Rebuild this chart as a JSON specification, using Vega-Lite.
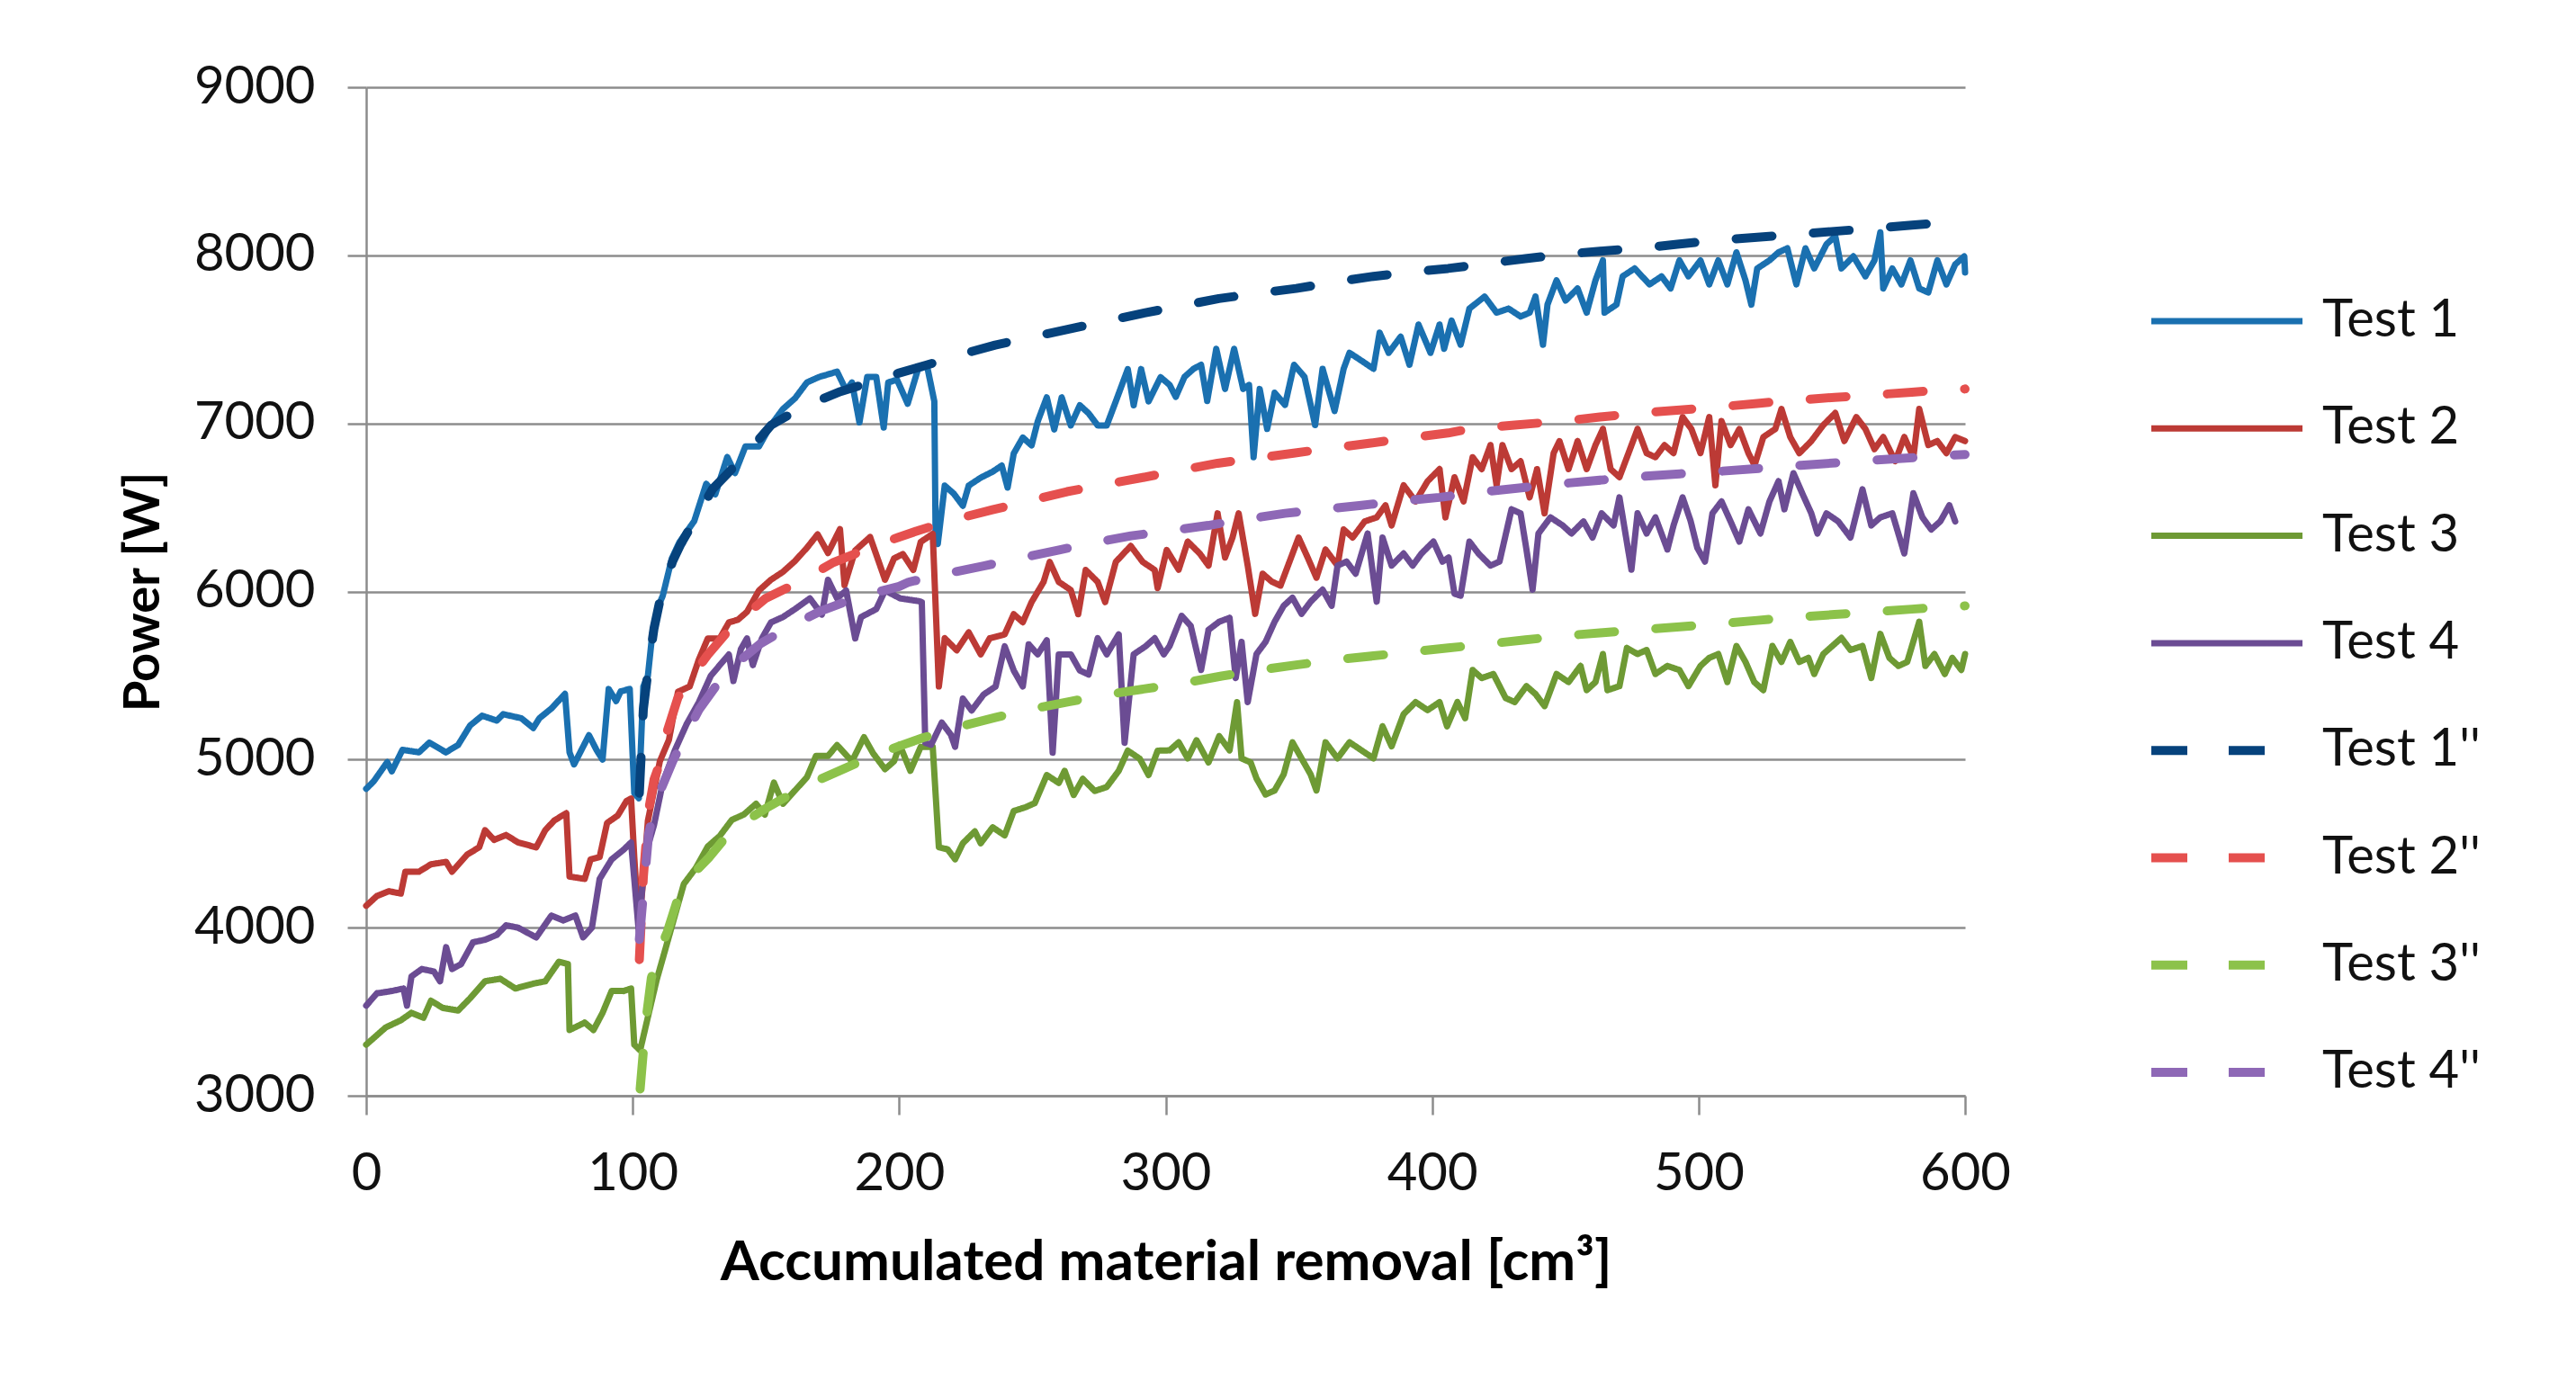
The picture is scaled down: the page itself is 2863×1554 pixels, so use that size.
{
"$schema": "https://vega.github.io/schema/vega-lite/v6.json",
"width": 1777,
"height": 1121,
"autosize": {"type": "none"},
"padding": {"left": 407, "top": 97, "right": 679, "bottom": 336},
"background": "white",
"config": {"view": {"stroke": null}, "font": "Lato"},
"data": {"values": [
{"s":"Test 1","x":0,"y":4826},{"s":"Test 1","x":2.8,"y":4870},{"s":"Test 1","x":7.9,"y":4985},{"s":"Test 1","x":9.6,"y":4930},{"s":"Test 1","x":13.6,"y":5058},{"s":"Test 1","x":19.8,"y":5043},{"s":"Test 1","x":23.7,"y":5101},{"s":"Test 1","x":29.9,"y":5043},{"s":"Test 1","x":34.5,"y":5087},{"s":"Test 1","x":39,"y":5203},{"s":"Test 1","x":43.5,"y":5261},{"s":"Test 1","x":49,"y":5232},{"s":"Test 1","x":51.4,"y":5270},{"s":"Test 1","x":58.2,"y":5246},{"s":"Test 1","x":62.7,"y":5188},{"s":"Test 1","x":65,"y":5246},{"s":"Test 1","x":69.5,"y":5304},{"s":"Test 1","x":74.6,"y":5391},{"s":"Test 1","x":76.3,"y":5043},{"s":"Test 1","x":78,"y":4971},{"s":"Test 1","x":80.8,"y":5058},{"s":"Test 1","x":83.6,"y":5145},{"s":"Test 1","x":86.4,"y":5058},{"s":"Test 1","x":88.7,"y":5000},{"s":"Test 1","x":91,"y":5420},{"s":"Test 1","x":93.8,"y":5348},{"s":"Test 1","x":95.5,"y":5406},{"s":"Test 1","x":98.9,"y":5420},{"s":"Test 1","x":100.6,"y":4800},{"s":"Test 1","x":102.3,"y":4770},{"s":"Test 1","x":104,"y":5435},{"s":"Test 1","x":105.7,"y":5498},{"s":"Test 1","x":107.4,"y":5752},{"s":"Test 1","x":109.6,"y":5911},{"s":"Test 1","x":111.3,"y":5975},{"s":"Test 1","x":114.7,"y":6197},{"s":"Test 1","x":117.5,"y":6292},{"s":"Test 1","x":120.3,"y":6356},{"s":"Test 1","x":123.1,"y":6419},{"s":"Test 1","x":127.6,"y":6641},{"s":"Test 1","x":131,"y":6578},{"s":"Test 1","x":135.5,"y":6800},{"s":"Test 1","x":138.4,"y":6705},{"s":"Test 1","x":142.3,"y":6863},{"s":"Test 1","x":147.4,"y":6863},{"s":"Test 1","x":151.9,"y":6990},{"s":"Test 1","x":156.4,"y":7086},{"s":"Test 1","x":160.9,"y":7149},{"s":"Test 1","x":165.4,"y":7244},{"s":"Test 1","x":169.9,"y":7276},{"s":"Test 1","x":173.3,"y":7292},{"s":"Test 1","x":176.7,"y":7308},{"s":"Test 1","x":180.1,"y":7197},{"s":"Test 1","x":182.3,"y":7244},{"s":"Test 1","x":185.1,"y":7006},{"s":"Test 1","x":188,"y":7276},{"s":"Test 1","x":191.4,"y":7276},{"s":"Test 1","x":194.2,"y":6975},{"s":"Test 1","x":195.9,"y":7244},{"s":"Test 1","x":199.2,"y":7260},{"s":"Test 1","x":203.2,"y":7117},{"s":"Test 1","x":207.1,"y":7324},{"s":"Test 1","x":210.5,"y":7340},{"s":"Test 1","x":213.2,"y":7131},{"s":"Test 1","x":213.7,"y":6295},{"s":"Test 1","x":214.5,"y":6283},{"s":"Test 1","x":217.1,"y":6630},{"s":"Test 1","x":220.5,"y":6582},{"s":"Test 1","x":223.9,"y":6510},{"s":"Test 1","x":226.1,"y":6630},{"s":"Test 1","x":230.6,"y":6677},{"s":"Test 1","x":235.1,"y":6713},{"s":"Test 1","x":238.5,"y":6749},{"s":"Test 1","x":240.7,"y":6618},{"s":"Test 1","x":243,"y":6821},{"s":"Test 1","x":246.4,"y":6916},{"s":"Test 1","x":249.7,"y":6869},{"s":"Test 1","x":252,"y":7012},{"s":"Test 1","x":255.4,"y":7155},{"s":"Test 1","x":258.2,"y":6964},{"s":"Test 1","x":261,"y":7155},{"s":"Test 1","x":264.4,"y":6988},{"s":"Test 1","x":267.8,"y":7108},{"s":"Test 1","x":271.1,"y":7060},{"s":"Test 1","x":274.5,"y":6988},{"s":"Test 1","x":277.9,"y":6988},{"s":"Test 1","x":281.3,"y":7131},{"s":"Test 1","x":285.8,"y":7323},{"s":"Test 1","x":288,"y":7108},{"s":"Test 1","x":290.8,"y":7323},{"s":"Test 1","x":293.6,"y":7131},{"s":"Test 1","x":298.1,"y":7275},{"s":"Test 1","x":301.5,"y":7229},{"s":"Test 1","x":303.8,"y":7158},{"s":"Test 1","x":307.1,"y":7277},{"s":"Test 1","x":310.5,"y":7325},{"s":"Test 1","x":313.3,"y":7349},{"s":"Test 1","x":315.6,"y":7134},{"s":"Test 1","x":319,"y":7444},{"s":"Test 1","x":322.3,"y":7205},{"s":"Test 1","x":325.7,"y":7444},{"s":"Test 1","x":329.1,"y":7205},{"s":"Test 1","x":331.3,"y":7229},{"s":"Test 1","x":333,"y":6799},{"s":"Test 1","x":335.3,"y":7205},{"s":"Test 1","x":338.1,"y":6967},{"s":"Test 1","x":340.9,"y":7182},{"s":"Test 1","x":344.8,"y":7110},{"s":"Test 1","x":348.2,"y":7349},{"s":"Test 1","x":352.1,"y":7277},{"s":"Test 1","x":356.1,"y":6990},{"s":"Test 1","x":358.9,"y":7325},{"s":"Test 1","x":363.4,"y":7074},{"s":"Test 1","x":366.8,"y":7325},{"s":"Test 1","x":369,"y":7420},{"s":"Test 1","x":373.5,"y":7373},{"s":"Test 1","x":378,"y":7325},{"s":"Test 1","x":380.3,"y":7540},{"s":"Test 1","x":383.7,"y":7420},{"s":"Test 1","x":388.2,"y":7516},{"s":"Test 1","x":391.5,"y":7349},{"s":"Test 1","x":394.9,"y":7588},{"s":"Test 1","x":399.4,"y":7420},{"s":"Test 1","x":402.8,"y":7588},{"s":"Test 1","x":404.5,"y":7444},{"s":"Test 1","x":407.3,"y":7612},{"s":"Test 1","x":410.7,"y":7468},{"s":"Test 1","x":414,"y":7683},{"s":"Test 1","x":419.7,"y":7755},{"s":"Test 1","x":424.2,"y":7659},{"s":"Test 1","x":428.7,"y":7683},{"s":"Test 1","x":433.2,"y":7636},{"s":"Test 1","x":436.6,"y":7659},{"s":"Test 1","x":438.8,"y":7755},{"s":"Test 1","x":441.6,"y":7468},{"s":"Test 1","x":443.3,"y":7707},{"s":"Test 1","x":446.7,"y":7851},{"s":"Test 1","x":450.1,"y":7731},{"s":"Test 1","x":454.6,"y":7803},{"s":"Test 1","x":458,"y":7659},{"s":"Test 1","x":461.3,"y":7851},{"s":"Test 1","x":464.1,"y":7970},{"s":"Test 1","x":464.7,"y":7659},{"s":"Test 1","x":469.2,"y":7707},{"s":"Test 1","x":471.5,"y":7875},{"s":"Test 1","x":476,"y":7922},{"s":"Test 1","x":481.6,"y":7827},{"s":"Test 1","x":486.1,"y":7875},{"s":"Test 1","x":489.5,"y":7803},{"s":"Test 1","x":492.8,"y":7970},{"s":"Test 1","x":496.2,"y":7875},{"s":"Test 1","x":500.7,"y":7970},{"s":"Test 1","x":504,"y":7827},{"s":"Test 1","x":507.4,"y":7970},{"s":"Test 1","x":510.8,"y":7827},{"s":"Test 1","x":514.2,"y":8018},{"s":"Test 1","x":517.6,"y":7851},{"s":"Test 1","x":519.8,"y":7707},{"s":"Test 1","x":522,"y":7922},{"s":"Test 1","x":526.6,"y":7970},{"s":"Test 1","x":530,"y":8018},{"s":"Test 1","x":533.3,"y":8042},{"s":"Test 1","x":536.7,"y":7827},{"s":"Test 1","x":540.1,"y":8042},{"s":"Test 1","x":543.4,"y":7922},{"s":"Test 1","x":548,"y":8066},{"s":"Test 1","x":551.3,"y":8114},{"s":"Test 1","x":553.6,"y":7922},{"s":"Test 1","x":558.1,"y":7994},{"s":"Test 1","x":562.6,"y":7875},{"s":"Test 1","x":566,"y":7970},{"s":"Test 1","x":568.2,"y":8137},{"s":"Test 1","x":569.3,"y":7803},{"s":"Test 1","x":572.7,"y":7922},{"s":"Test 1","x":576.1,"y":7827},{"s":"Test 1","x":579.5,"y":7970},{"s":"Test 1","x":582.8,"y":7803},{"s":"Test 1","x":586.2,"y":7779},{"s":"Test 1","x":589.6,"y":7970},{"s":"Test 1","x":593,"y":7827},{"s":"Test 1","x":596.3,"y":7946},{"s":"Test 1","x":599.7,"y":7994},{"s":"Test 1","x":600,"y":7898},
{"s":"Test 2","x":0,"y":4130},{"s":"Test 2","x":4,"y":4188},{"s":"Test 2","x":8.5,"y":4217},{"s":"Test 2","x":13,"y":4203},{"s":"Test 2","x":14.7,"y":4333},{"s":"Test 2","x":19.8,"y":4333},{"s":"Test 2","x":24.3,"y":4377},{"s":"Test 2","x":30,"y":4391},{"s":"Test 2","x":32.2,"y":4333},{"s":"Test 2","x":37.9,"y":4435},{"s":"Test 2","x":42.4,"y":4478},{"s":"Test 2","x":44.6,"y":4580},{"s":"Test 2","x":48,"y":4522},{"s":"Test 2","x":52.5,"y":4551},{"s":"Test 2","x":57,"y":4507},{"s":"Test 2","x":63.8,"y":4478},{"s":"Test 2","x":67.2,"y":4580},{"s":"Test 2","x":70.6,"y":4638},{"s":"Test 2","x":75.1,"y":4681},{"s":"Test 2","x":76.3,"y":4304},{"s":"Test 2","x":82,"y":4290},{"s":"Test 2","x":84.2,"y":4406},{"s":"Test 2","x":87.6,"y":4420},{"s":"Test 2","x":90.4,"y":4623},{"s":"Test 2","x":94.4,"y":4667},{"s":"Test 2","x":97.7,"y":4754},{"s":"Test 2","x":99.4,"y":4768},{"s":"Test 2","x":100.6,"y":4419},{"s":"Test 2","x":102.3,"y":4000},{"s":"Test 2","x":104.2,"y":4324},{"s":"Test 2","x":105.7,"y":4635},{"s":"Test 2","x":110.2,"y":4990},{"s":"Test 2","x":113.6,"y":5117},{"s":"Test 2","x":117,"y":5403},{"s":"Test 2","x":121.4,"y":5435},{"s":"Test 2","x":124.8,"y":5594},{"s":"Test 2","x":128.2,"y":5721},{"s":"Test 2","x":132.7,"y":5721},{"s":"Test 2","x":136.1,"y":5816},{"s":"Test 2","x":139.5,"y":5832},{"s":"Test 2","x":142.9,"y":5879},{"s":"Test 2","x":147.4,"y":6006},{"s":"Test 2","x":151.9,"y":6070},{"s":"Test 2","x":156.4,"y":6117},{"s":"Test 2","x":160.9,"y":6181},{"s":"Test 2","x":165.4,"y":6260},{"s":"Test 2","x":169.4,"y":6340},{"s":"Test 2","x":173.3,"y":6229},{"s":"Test 2","x":177.8,"y":6371},{"s":"Test 2","x":179.5,"y":6038},{"s":"Test 2","x":183.5,"y":6244},{"s":"Test 2","x":189.1,"y":6324},{"s":"Test 2","x":194.7,"y":6070},{"s":"Test 2","x":198.1,"y":6197},{"s":"Test 2","x":201.4,"y":6223},{"s":"Test 2","x":205.3,"y":6128},{"s":"Test 2","x":208.1,"y":6295},{"s":"Test 2","x":212.6,"y":6343},{"s":"Test 2","x":214.9,"y":5435},{"s":"Test 2","x":217.1,"y":5722},{"s":"Test 2","x":221.6,"y":5650},{"s":"Test 2","x":226.1,"y":5757},{"s":"Test 2","x":230.6,"y":5626},{"s":"Test 2","x":234,"y":5722},{"s":"Test 2","x":239.6,"y":5745},{"s":"Test 2","x":243,"y":5865},{"s":"Test 2","x":246.4,"y":5817},{"s":"Test 2","x":249.7,"y":5937},{"s":"Test 2","x":254.2,"y":6057},{"s":"Test 2","x":256.5,"y":6176},{"s":"Test 2","x":259.9,"y":6057},{"s":"Test 2","x":264.4,"y":6009},{"s":"Test 2","x":267.2,"y":5865},{"s":"Test 2","x":270,"y":6128},{"s":"Test 2","x":274.5,"y":6057},{"s":"Test 2","x":277.3,"y":5937},{"s":"Test 2","x":281.3,"y":6176},{"s":"Test 2","x":286.9,"y":6271},{"s":"Test 2","x":291.4,"y":6176},{"s":"Test 2","x":295.9,"y":6128},{"s":"Test 2","x":297,"y":6020},{"s":"Test 2","x":300.4,"y":6247},{"s":"Test 2","x":304.9,"y":6130},{"s":"Test 2","x":308.3,"y":6297},{"s":"Test 2","x":312.8,"y":6226},{"s":"Test 2","x":316.1,"y":6154},{"s":"Test 2","x":319.5,"y":6465},{"s":"Test 2","x":322.3,"y":6202},{"s":"Test 2","x":325.1,"y":6321},{"s":"Test 2","x":327.4,"y":6465},{"s":"Test 2","x":330.8,"y":6154},{"s":"Test 2","x":333.6,"y":5867},{"s":"Test 2","x":336.4,"y":6106},{"s":"Test 2","x":339.8,"y":6059},{"s":"Test 2","x":343.1,"y":6035},{"s":"Test 2","x":346.5,"y":6178},{"s":"Test 2","x":349.9,"y":6321},{"s":"Test 2","x":353.3,"y":6202},{"s":"Test 2","x":356.6,"y":6082},{"s":"Test 2","x":360,"y":6250},{"s":"Test 2","x":364.5,"y":6154},{"s":"Test 2","x":366.8,"y":6369},{"s":"Test 2","x":370.2,"y":6321},{"s":"Test 2","x":374.7,"y":6417},{"s":"Test 2","x":379.2,"y":6441},{"s":"Test 2","x":382.5,"y":6513},{"s":"Test 2","x":384.8,"y":6393},{"s":"Test 2","x":389.3,"y":6632},{"s":"Test 2","x":393.8,"y":6536},{"s":"Test 2","x":398.3,"y":6656},{"s":"Test 2","x":402.8,"y":6728},{"s":"Test 2","x":405,"y":6441},{"s":"Test 2","x":408.4,"y":6680},{"s":"Test 2","x":411.8,"y":6536},{"s":"Test 2","x":415.2,"y":6799},{"s":"Test 2","x":418.6,"y":6728},{"s":"Test 2","x":421.9,"y":6871},{"s":"Test 2","x":424.2,"y":6632},{"s":"Test 2","x":426.4,"y":6871},{"s":"Test 2","x":429.8,"y":6728},{"s":"Test 2","x":433.2,"y":6775},{"s":"Test 2","x":436.6,"y":6560},{"s":"Test 2","x":439.4,"y":6728},{"s":"Test 2","x":442.2,"y":6465},{"s":"Test 2","x":445.6,"y":6823},{"s":"Test 2","x":447.8,"y":6895},{"s":"Test 2","x":451.2,"y":6728},{"s":"Test 2","x":454.6,"y":6895},{"s":"Test 2","x":458,"y":6728},{"s":"Test 2","x":461.3,"y":6871},{"s":"Test 2","x":464.1,"y":6967},{"s":"Test 2","x":467,"y":6728},{"s":"Test 2","x":470.3,"y":6680},{"s":"Test 2","x":473.7,"y":6823},{"s":"Test 2","x":477.1,"y":6967},{"s":"Test 2","x":480.5,"y":6823},{"s":"Test 2","x":483.8,"y":6799},{"s":"Test 2","x":487.2,"y":6871},{"s":"Test 2","x":490.6,"y":6823},{"s":"Test 2","x":494,"y":7038},{"s":"Test 2","x":497.3,"y":6967},{"s":"Test 2","x":500.7,"y":6823},{"s":"Test 2","x":504,"y":7038},{"s":"Test 2","x":506.3,"y":6632},{"s":"Test 2","x":508.6,"y":7014},{"s":"Test 2","x":512,"y":6871},{"s":"Test 2","x":515.3,"y":6967},{"s":"Test 2","x":518.7,"y":6823},{"s":"Test 2","x":521,"y":6751},{"s":"Test 2","x":524.3,"y":6919},{"s":"Test 2","x":528.8,"y":6967},{"s":"Test 2","x":531.1,"y":7086},{"s":"Test 2","x":534.4,"y":6919},{"s":"Test 2","x":537.8,"y":6823},{"s":"Test 2","x":542.3,"y":6895},{"s":"Test 2","x":546.8,"y":6990},{"s":"Test 2","x":551.3,"y":7062},{"s":"Test 2","x":554.7,"y":6895},{"s":"Test 2","x":559.2,"y":7038},{"s":"Test 2","x":562.6,"y":6967},{"s":"Test 2","x":566,"y":6847},{"s":"Test 2","x":569.3,"y":6919},{"s":"Test 2","x":573.8,"y":6775},{"s":"Test 2","x":577.2,"y":6919},{"s":"Test 2","x":580.6,"y":6799},{"s":"Test 2","x":582.8,"y":7086},{"s":"Test 2","x":586.2,"y":6871},{"s":"Test 2","x":589.6,"y":6895},{"s":"Test 2","x":593,"y":6823},{"s":"Test 2","x":596.3,"y":6919},{"s":"Test 2","x":600,"y":6895},
{"s":"Test 3","x":0,"y":3304},{"s":"Test 3","x":7.3,"y":3406},{"s":"Test 3","x":13,"y":3449},{"s":"Test 3","x":17,"y":3493},{"s":"Test 3","x":21.5,"y":3464},{"s":"Test 3","x":24.3,"y":3565},{"s":"Test 3","x":28.8,"y":3522},{"s":"Test 3","x":34.5,"y":3507},{"s":"Test 3","x":39,"y":3580},{"s":"Test 3","x":44.6,"y":3681},{"s":"Test 3","x":50.3,"y":3696},{"s":"Test 3","x":56,"y":3638},{"s":"Test 3","x":62.7,"y":3667},{"s":"Test 3","x":67.2,"y":3681},{"s":"Test 3","x":72.3,"y":3797},{"s":"Test 3","x":75.7,"y":3783},{"s":"Test 3","x":76.3,"y":3391},{"s":"Test 3","x":82,"y":3435},{"s":"Test 3","x":85.3,"y":3391},{"s":"Test 3","x":88.7,"y":3493},{"s":"Test 3","x":92.1,"y":3623},{"s":"Test 3","x":96.6,"y":3623},{"s":"Test 3","x":99.4,"y":3638},{"s":"Test 3","x":100.6,"y":3304},{"s":"Test 3","x":102.8,"y":3270},{"s":"Test 3","x":105.7,"y":3467},{"s":"Test 3","x":109,"y":3689},{"s":"Test 3","x":112.4,"y":3879},{"s":"Test 3","x":115.8,"y":4070},{"s":"Test 3","x":119.2,"y":4260},{"s":"Test 3","x":123.7,"y":4355},{"s":"Test 3","x":128.2,"y":4483},{"s":"Test 3","x":132.7,"y":4546},{"s":"Test 3","x":137.2,"y":4641},{"s":"Test 3","x":141.7,"y":4673},{"s":"Test 3","x":146.3,"y":4737},{"s":"Test 3","x":149.6,"y":4673},{"s":"Test 3","x":153,"y":4863},{"s":"Test 3","x":156.4,"y":4737},{"s":"Test 3","x":160.9,"y":4816},{"s":"Test 3","x":165.4,"y":4895},{"s":"Test 3","x":168.8,"y":5022},{"s":"Test 3","x":173.3,"y":5022},{"s":"Test 3","x":176.7,"y":5086},{"s":"Test 3","x":182.3,"y":4990},{"s":"Test 3","x":186.8,"y":5133},{"s":"Test 3","x":190.2,"y":5038},{"s":"Test 3","x":194.7,"y":4943},{"s":"Test 3","x":198.1,"y":4990},{"s":"Test 3","x":200.2,"y":5088},{"s":"Test 3","x":204.2,"y":4933},{"s":"Test 3","x":208.1,"y":5076},{"s":"Test 3","x":212.6,"y":5076},{"s":"Test 3","x":214.9,"y":4478},{"s":"Test 3","x":218.2,"y":4466},{"s":"Test 3","x":221,"y":4407},{"s":"Test 3","x":223.9,"y":4502},{"s":"Test 3","x":228.4,"y":4573},{"s":"Test 3","x":230.6,"y":4502},{"s":"Test 3","x":235.1,"y":4597},{"s":"Test 3","x":239.6,"y":4549},{"s":"Test 3","x":243,"y":4694},{"s":"Test 3","x":247.5,"y":4717},{"s":"Test 3","x":250.9,"y":4741},{"s":"Test 3","x":255.4,"y":4908},{"s":"Test 3","x":259.9,"y":4861},{"s":"Test 3","x":262.1,"y":4933},{"s":"Test 3","x":265.5,"y":4789},{"s":"Test 3","x":268.9,"y":4885},{"s":"Test 3","x":273.4,"y":4813},{"s":"Test 3","x":277.9,"y":4837},{"s":"Test 3","x":282.4,"y":4933},{"s":"Test 3","x":285.8,"y":5053},{"s":"Test 3","x":290.3,"y":5005},{"s":"Test 3","x":293.6,"y":4908},{"s":"Test 3","x":297,"y":5053},{"s":"Test 3","x":301.5,"y":5055},{"s":"Test 3","x":304.9,"y":5103},{"s":"Test 3","x":308.3,"y":5007},{"s":"Test 3","x":311.6,"y":5115},{"s":"Test 3","x":316.1,"y":4983},{"s":"Test 3","x":320.1,"y":5139},{"s":"Test 3","x":324,"y":5055},{"s":"Test 3","x":326.8,"y":5342},{"s":"Test 3","x":328.5,"y":5007},{"s":"Test 3","x":331.9,"y":4983},{"s":"Test 3","x":334.1,"y":4888},{"s":"Test 3","x":337.5,"y":4792},{"s":"Test 3","x":340.9,"y":4816},{"s":"Test 3","x":344.3,"y":4912},{"s":"Test 3","x":347.6,"y":5103},{"s":"Test 3","x":351,"y":5007},{"s":"Test 3","x":354.4,"y":4912},{"s":"Test 3","x":356.6,"y":4816},{"s":"Test 3","x":360,"y":5103},{"s":"Test 3","x":364.5,"y":5007},{"s":"Test 3","x":369,"y":5103},{"s":"Test 3","x":373.5,"y":5055},{"s":"Test 3","x":378,"y":5007},{"s":"Test 3","x":381.4,"y":5198},{"s":"Test 3","x":384.8,"y":5079},{"s":"Test 3","x":389.3,"y":5270},{"s":"Test 3","x":393.8,"y":5342},{"s":"Test 3","x":398.3,"y":5294},{"s":"Test 3","x":402.8,"y":5342},{"s":"Test 3","x":405.6,"y":5198},{"s":"Test 3","x":409.5,"y":5342},{"s":"Test 3","x":412.4,"y":5246},{"s":"Test 3","x":415.2,"y":5533},{"s":"Test 3","x":418.6,"y":5485},{"s":"Test 3","x":423,"y":5509},{"s":"Test 3","x":427.6,"y":5366},{"s":"Test 3","x":431,"y":5342},{"s":"Test 3","x":435.4,"y":5437},{"s":"Test 3","x":438.8,"y":5390},{"s":"Test 3","x":442.2,"y":5318},{"s":"Test 3","x":446.7,"y":5509},{"s":"Test 3","x":451.2,"y":5461},{"s":"Test 3","x":455.7,"y":5557},{"s":"Test 3","x":458,"y":5413},{"s":"Test 3","x":461.3,"y":5461},{"s":"Test 3","x":464.1,"y":5628},{"s":"Test 3","x":465.8,"y":5413},{"s":"Test 3","x":470.3,"y":5437},{"s":"Test 3","x":473.1,"y":5664},{"s":"Test 3","x":477.1,"y":5628},{"s":"Test 3","x":480.5,"y":5652},{"s":"Test 3","x":483.8,"y":5509},{"s":"Test 3","x":488.3,"y":5557},{"s":"Test 3","x":492.8,"y":5533},{"s":"Test 3","x":496.2,"y":5437},{"s":"Test 3","x":500.7,"y":5557},{"s":"Test 3","x":504,"y":5605},{"s":"Test 3","x":507.4,"y":5628},{"s":"Test 3","x":510.8,"y":5461},{"s":"Test 3","x":514.2,"y":5676},{"s":"Test 3","x":517.6,"y":5581},{"s":"Test 3","x":520.9,"y":5461},{"s":"Test 3","x":524.3,"y":5413},{"s":"Test 3","x":527.7,"y":5676},{"s":"Test 3","x":531.1,"y":5581},{"s":"Test 3","x":534.4,"y":5700},{"s":"Test 3","x":537.8,"y":5581},{"s":"Test 3","x":541.2,"y":5605},{"s":"Test 3","x":543.4,"y":5509},{"s":"Test 3","x":546.8,"y":5628},{"s":"Test 3","x":550.2,"y":5676},{"s":"Test 3","x":553.6,"y":5724},{"s":"Test 3","x":557,"y":5652},{"s":"Test 3","x":561.5,"y":5676},{"s":"Test 3","x":564.8,"y":5485},{"s":"Test 3","x":568.2,"y":5748},{"s":"Test 3","x":571.6,"y":5605},{"s":"Test 3","x":575,"y":5557},{"s":"Test 3","x":578.3,"y":5581},{"s":"Test 3","x":582.8,"y":5820},{"s":"Test 3","x":585.1,"y":5557},{"s":"Test 3","x":588.5,"y":5628},{"s":"Test 3","x":592.4,"y":5509},{"s":"Test 3","x":595.2,"y":5605},{"s":"Test 3","x":598.6,"y":5533},{"s":"Test 3","x":600,"y":5628},
{"s":"Test 4","x":0,"y":3536},{"s":"Test 4","x":4,"y":3609},{"s":"Test 4","x":9.6,"y":3623},{"s":"Test 4","x":14,"y":3638},{"s":"Test 4","x":15.3,"y":3536},{"s":"Test 4","x":17,"y":3710},{"s":"Test 4","x":20.9,"y":3754},{"s":"Test 4","x":25.4,"y":3739},{"s":"Test 4","x":27.7,"y":3681},{"s":"Test 4","x":30,"y":3884},{"s":"Test 4","x":32.2,"y":3754},{"s":"Test 4","x":35.6,"y":3783},{"s":"Test 4","x":40.1,"y":3913},{"s":"Test 4","x":44.6,"y":3928},{"s":"Test 4","x":49,"y":3957},{"s":"Test 4","x":52.5,"y":4014},{"s":"Test 4","x":57,"y":4000},{"s":"Test 4","x":63.8,"y":3942},{"s":"Test 4","x":69.5,"y":4072},{"s":"Test 4","x":74,"y":4043},{"s":"Test 4","x":78.5,"y":4072},{"s":"Test 4","x":81.4,"y":3942},{"s":"Test 4","x":84.7,"y":4000},{"s":"Test 4","x":87.6,"y":4290},{"s":"Test 4","x":92.1,"y":4406},{"s":"Test 4","x":96.6,"y":4464},{"s":"Test 4","x":99.4,"y":4507},{"s":"Test 4","x":100.6,"y":4290},{"s":"Test 4","x":102.3,"y":3975},{"s":"Test 4","x":104.5,"y":4419},{"s":"Test 4","x":108,"y":4610},{"s":"Test 4","x":111.3,"y":4863},{"s":"Test 4","x":115.8,"y":5054},{"s":"Test 4","x":120.3,"y":5213},{"s":"Test 4","x":124.8,"y":5340},{"s":"Test 4","x":129.3,"y":5498},{"s":"Test 4","x":132.7,"y":5562},{"s":"Test 4","x":136.1,"y":5625},{"s":"Test 4","x":137.8,"y":5467},{"s":"Test 4","x":140.6,"y":5657},{"s":"Test 4","x":142.9,"y":5721},{"s":"Test 4","x":145.1,"y":5562},{"s":"Test 4","x":148.5,"y":5721},{"s":"Test 4","x":151.9,"y":5816},{"s":"Test 4","x":156.4,"y":5848},{"s":"Test 4","x":160.9,"y":5895},{"s":"Test 4","x":166.5,"y":5959},{"s":"Test 4","x":171,"y":5863},{"s":"Test 4","x":173.3,"y":6070},{"s":"Test 4","x":176.7,"y":5959},{"s":"Test 4","x":180.1,"y":6006},{"s":"Test 4","x":183.5,"y":5721},{"s":"Test 4","x":185.7,"y":5848},{"s":"Test 4","x":191.4,"y":5895},{"s":"Test 4","x":194.7,"y":6006},{"s":"Test 4","x":200.4,"y":5959},{"s":"Test 4","x":207.1,"y":5943},{"s":"Test 4","x":208.5,"y":5937},{"s":"Test 4","x":209.8,"y":5100},{"s":"Test 4","x":212,"y":5088},{"s":"Test 4","x":216,"y":5220},{"s":"Test 4","x":219.4,"y":5148},{"s":"Test 4","x":221,"y":5076},{"s":"Test 4","x":223.9,"y":5363},{"s":"Test 4","x":227.2,"y":5292},{"s":"Test 4","x":231.7,"y":5387},{"s":"Test 4","x":236.2,"y":5435},{"s":"Test 4","x":239.6,"y":5674},{"s":"Test 4","x":243,"y":5530},{"s":"Test 4","x":246.4,"y":5435},{"s":"Test 4","x":248.6,"y":5686},{"s":"Test 4","x":252,"y":5626},{"s":"Test 4","x":255.4,"y":5710},{"s":"Test 4","x":257.6,"y":5041},{"s":"Test 4","x":259.9,"y":5626},{"s":"Test 4","x":264.4,"y":5626},{"s":"Test 4","x":267.8,"y":5530},{"s":"Test 4","x":271.1,"y":5506},{"s":"Test 4","x":274.5,"y":5722},{"s":"Test 4","x":277.9,"y":5626},{"s":"Test 4","x":282.4,"y":5745},{"s":"Test 4","x":284.6,"y":5100},{"s":"Test 4","x":288,"y":5626},{"s":"Test 4","x":292.5,"y":5674},{"s":"Test 4","x":295.9,"y":5722},{"s":"Test 4","x":299.3,"y":5626},{"s":"Test 4","x":301.5,"y":5676},{"s":"Test 4","x":306,"y":5855},{"s":"Test 4","x":309.4,"y":5796},{"s":"Test 4","x":313.3,"y":5533},{"s":"Test 4","x":316.1,"y":5772},{"s":"Test 4","x":320.1,"y":5820},{"s":"Test 4","x":324,"y":5843},{"s":"Test 4","x":326.3,"y":5485},{"s":"Test 4","x":328.5,"y":5700},{"s":"Test 4","x":330.8,"y":5342},{"s":"Test 4","x":334.1,"y":5628},{"s":"Test 4","x":337.5,"y":5700},{"s":"Test 4","x":340.9,"y":5820},{"s":"Test 4","x":344.3,"y":5915},{"s":"Test 4","x":347.6,"y":5963},{"s":"Test 4","x":351,"y":5867},{"s":"Test 4","x":354.4,"y":5939},{"s":"Test 4","x":358.9,"y":6011},{"s":"Test 4","x":362.3,"y":5915},{"s":"Test 4","x":364.5,"y":6154},{"s":"Test 4","x":367.9,"y":6178},{"s":"Test 4","x":371.3,"y":6106},{"s":"Test 4","x":375.8,"y":6345},{"s":"Test 4","x":379.2,"y":5939},{"s":"Test 4","x":381.4,"y":6321},{"s":"Test 4","x":384.8,"y":6154},{"s":"Test 4","x":389.3,"y":6226},{"s":"Test 4","x":392.7,"y":6154},{"s":"Test 4","x":396,"y":6226},{"s":"Test 4","x":400.5,"y":6297},{"s":"Test 4","x":403.9,"y":6178},{"s":"Test 4","x":406.2,"y":6202},{"s":"Test 4","x":408.4,"y":5987},{"s":"Test 4","x":410.7,"y":5975},{"s":"Test 4","x":414,"y":6297},{"s":"Test 4","x":417.4,"y":6226},{"s":"Test 4","x":421.9,"y":6154},{"s":"Test 4","x":425.3,"y":6178},{"s":"Test 4","x":429.8,"y":6489},{"s":"Test 4","x":433.2,"y":6465},{"s":"Test 4","x":435.4,"y":6250},{"s":"Test 4","x":437.7,"y":6011},{"s":"Test 4","x":439.9,"y":6345},{"s":"Test 4","x":444.4,"y":6441},{"s":"Test 4","x":449,"y":6393},{"s":"Test 4","x":452.3,"y":6345},{"s":"Test 4","x":456.8,"y":6417},{"s":"Test 4","x":460.2,"y":6321},{"s":"Test 4","x":463.6,"y":6465},{"s":"Test 4","x":468.1,"y":6393},{"s":"Test 4","x":470.3,"y":6560},{"s":"Test 4","x":474.8,"y":6130},{"s":"Test 4","x":477.1,"y":6465},{"s":"Test 4","x":480.5,"y":6345},{"s":"Test 4","x":483.8,"y":6441},{"s":"Test 4","x":488.3,"y":6250},{"s":"Test 4","x":490.6,"y":6393},{"s":"Test 4","x":494,"y":6560},{"s":"Test 4","x":497,"y":6420},{"s":"Test 4","x":499.5,"y":6260},{"s":"Test 4","x":502.4,"y":6178},{"s":"Test 4","x":505.2,"y":6465},{"s":"Test 4","x":508.6,"y":6536},{"s":"Test 4","x":512,"y":6417},{"s":"Test 4","x":515.3,"y":6297},{"s":"Test 4","x":518.7,"y":6489},{"s":"Test 4","x":523.2,"y":6345},{"s":"Test 4","x":526.6,"y":6536},{"s":"Test 4","x":530,"y":6656},{"s":"Test 4","x":532.2,"y":6489},{"s":"Test 4","x":535.6,"y":6704},{"s":"Test 4","x":538.9,"y":6584},{"s":"Test 4","x":542.3,"y":6465},{"s":"Test 4","x":544.6,"y":6345},{"s":"Test 4","x":548,"y":6465},{"s":"Test 4","x":552.4,"y":6417},{"s":"Test 4","x":557,"y":6321},{"s":"Test 4","x":561.5,"y":6608},{"s":"Test 4","x":564.8,"y":6393},{"s":"Test 4","x":568.2,"y":6441},{"s":"Test 4","x":572.7,"y":6465},{"s":"Test 4","x":577.2,"y":6226},{"s":"Test 4","x":580.6,"y":6584},{"s":"Test 4","x":584,"y":6441},{"s":"Test 4","x":587.3,"y":6369},{"s":"Test 4","x":590.7,"y":6417},{"s":"Test 4","x":594.1,"y":6513},{"s":"Test 4","x":596.3,"y":6417},
{"s":"Test 1''","x":102.5,"y":4800},{"s":"Test 1''","x":104,"y":5300},{"s":"Test 1''","x":106,"y":5560},{"s":"Test 1''","x":108,"y":5780},{"s":"Test 1''","x":110,"y":5930},{"s":"Test 1''","x":112,"y":6040},{"s":"Test 1''","x":115,"y":6180},{"s":"Test 1''","x":118,"y":6280},{"s":"Test 1''","x":122,"y":6390},{"s":"Test 1''","x":130,"y":6610},{"s":"Test 1''","x":141,"y":6790},{"s":"Test 1''","x":152,"y":6990},{"s":"Test 1''","x":164,"y":7100},{"s":"Test 1''","x":178,"y":7190},{"s":"Test 1''","x":189,"y":7244},{"s":"Test 1''","x":200,"y":7300},{"s":"Test 1''","x":210,"y":7346},{"s":"Test 1''","x":222,"y":7405},{"s":"Test 1''","x":236,"y":7466},{"s":"Test 1''","x":250,"y":7515},{"s":"Test 1''","x":264,"y":7562},{"s":"Test 1''","x":278,"y":7610},{"s":"Test 1''","x":292,"y":7657},{"s":"Test 1''","x":306,"y":7700},{"s":"Test 1''","x":320,"y":7743},{"s":"Test 1''","x":335,"y":7775},{"s":"Test 1''","x":349,"y":7803},{"s":"Test 1''","x":363,"y":7840},{"s":"Test 1''","x":378,"y":7875},{"s":"Test 1''","x":392,"y":7900},{"s":"Test 1''","x":406,"y":7922},{"s":"Test 1''","x":420,"y":7950},{"s":"Test 1''","x":435,"y":7980},{"s":"Test 1''","x":449,"y":8006},{"s":"Test 1''","x":463,"y":8025},{"s":"Test 1''","x":478,"y":8042},{"s":"Test 1''","x":492,"y":8066},{"s":"Test 1''","x":507,"y":8090},{"s":"Test 1''","x":522,"y":8108},{"s":"Test 1''","x":537,"y":8125},{"s":"Test 1''","x":551,"y":8143},{"s":"Test 1''","x":566,"y":8161},{"s":"Test 1''","x":580,"y":8180},{"s":"Test 1''","x":594,"y":8197},{"s":"Test 1''","x":600,"y":8203},
{"s":"Test 2''","x":102.5,"y":3810},{"s":"Test 2''","x":104,"y":4300},{"s":"Test 2''","x":106,"y":4700},{"s":"Test 2''","x":108,"y":4880},{"s":"Test 2''","x":110,"y":4970},{"s":"Test 2''","x":113,"y":5170},{"s":"Test 2''","x":117,"y":5370},{"s":"Test 2''","x":122.6,"y":5500},{"s":"Test 2''","x":128,"y":5620},{"s":"Test 2''","x":135,"y":5750},{"s":"Test 2''","x":143,"y":5870},{"s":"Test 2''","x":150,"y":5960},{"s":"Test 2''","x":163,"y":6060},{"s":"Test 2''","x":175,"y":6170},{"s":"Test 2''","x":189,"y":6260},{"s":"Test 2''","x":200,"y":6324},{"s":"Test 2''","x":208,"y":6367},{"s":"Test 2''","x":221,"y":6430},{"s":"Test 2''","x":235,"y":6486},{"s":"Test 2''","x":249,"y":6540},{"s":"Test 2''","x":263,"y":6594},{"s":"Test 2''","x":277,"y":6636},{"s":"Test 2''","x":291,"y":6677},{"s":"Test 2''","x":305,"y":6720},{"s":"Test 2''","x":319.5,"y":6763},{"s":"Test 2''","x":334,"y":6793},{"s":"Test 2''","x":348,"y":6823},{"s":"Test 2''","x":362,"y":6853},{"s":"Test 2''","x":377,"y":6883},{"s":"Test 2''","x":391,"y":6913},{"s":"Test 2''","x":406,"y":6943},{"s":"Test 2''","x":414,"y":6967},{"s":"Test 2''","x":431,"y":6990},{"s":"Test 2''","x":449,"y":7014},{"s":"Test 2''","x":463,"y":7038},{"s":"Test 2''","x":478,"y":7062},{"s":"Test 2''","x":493,"y":7080},{"s":"Test 2''","x":507.5,"y":7098},{"s":"Test 2''","x":522,"y":7119},{"s":"Test 2''","x":537,"y":7139},{"s":"Test 2''","x":551,"y":7155},{"s":"Test 2''","x":566,"y":7170},{"s":"Test 2''","x":580,"y":7186},{"s":"Test 2''","x":594,"y":7201},{"s":"Test 2''","x":600,"y":7205},
{"s":"Test 3''","x":102.8,"y":3040},{"s":"Test 3''","x":105,"y":3450},{"s":"Test 3''","x":107,"y":3700},{"s":"Test 3''","x":110,"y":3860},{"s":"Test 3''","x":113,"y":3975},{"s":"Test 3''","x":117.5,"y":4200},{"s":"Test 3''","x":122,"y":4310},{"s":"Test 3''","x":128.8,"y":4420},{"s":"Test 3''","x":135,"y":4540},{"s":"Test 3''","x":142,"y":4630},{"s":"Test 3''","x":150,"y":4710},{"s":"Test 3''","x":160,"y":4800},{"s":"Test 3''","x":170,"y":4880},{"s":"Test 3''","x":180,"y":4950},{"s":"Test 3''","x":190,"y":5020},{"s":"Test 3''","x":200,"y":5080},{"s":"Test 3''","x":209,"y":5130},{"s":"Test 3''","x":222.7,"y":5196},{"s":"Test 3''","x":236,"y":5250},{"s":"Test 3''","x":250.3,"y":5303},{"s":"Test 3''","x":264,"y":5345},{"s":"Test 3''","x":278,"y":5387},{"s":"Test 3''","x":291,"y":5418},{"s":"Test 3''","x":303.8,"y":5447},{"s":"Test 3''","x":321,"y":5497},{"s":"Test 3''","x":335.3,"y":5533},{"s":"Test 3''","x":349,"y":5563},{"s":"Test 3''","x":363.4,"y":5593},{"s":"Test 3''","x":378,"y":5617},{"s":"Test 3''","x":392,"y":5640},{"s":"Test 3''","x":406,"y":5664},{"s":"Test 3''","x":420.8,"y":5688},{"s":"Test 3''","x":435,"y":5712},{"s":"Test 3''","x":449,"y":5736},{"s":"Test 3''","x":463,"y":5754},{"s":"Test 3''","x":478,"y":5772},{"s":"Test 3''","x":493,"y":5790},{"s":"Test 3''","x":507.4,"y":5808},{"s":"Test 3''","x":522,"y":5828},{"s":"Test 3''","x":536.7,"y":5848},{"s":"Test 3''","x":551,"y":5863},{"s":"Test 3''","x":566,"y":5879},{"s":"Test 3''","x":580,"y":5895},{"s":"Test 3''","x":594,"y":5910},{"s":"Test 3''","x":600,"y":5915},
{"s":"Test 4''","x":102.5,"y":3930},{"s":"Test 4''","x":104,"y":4200},{"s":"Test 4''","x":106,"y":4560},{"s":"Test 4''","x":108,"y":4700},{"s":"Test 4''","x":110,"y":4800},{"s":"Test 4''","x":115,"y":4990},{"s":"Test 4''","x":120,"y":5150},{"s":"Test 4''","x":125,"y":5300},{"s":"Test 4''","x":135,"y":5520},{"s":"Test 4''","x":148,"y":5690},{"s":"Test 4''","x":160,"y":5800},{"s":"Test 4''","x":170,"y":5880},{"s":"Test 4''","x":180,"y":5940},{"s":"Test 4''","x":190,"y":5990},{"s":"Test 4''","x":200,"y":6030},{"s":"Test 4''","x":203.6,"y":6056},{"s":"Test 4''","x":217,"y":6104},{"s":"Test 4''","x":231.7,"y":6152},{"s":"Test 4''","x":246,"y":6200},{"s":"Test 4''","x":260,"y":6247},{"s":"Test 4''","x":273,"y":6290},{"s":"Test 4''","x":287,"y":6331},{"s":"Test 4''","x":302,"y":6362},{"s":"Test 4''","x":316,"y":6393},{"s":"Test 4''","x":330,"y":6430},{"s":"Test 4''","x":344.8,"y":6465},{"s":"Test 4''","x":359,"y":6489},{"s":"Test 4''","x":373.5,"y":6513},{"s":"Test 4''","x":388,"y":6537},{"s":"Test 4''","x":402.8,"y":6560},{"s":"Test 4''","x":420.8,"y":6596},{"s":"Test 4''","x":435,"y":6620},{"s":"Test 4''","x":450,"y":6644},{"s":"Test 4''","x":465,"y":6665},{"s":"Test 4''","x":479.3,"y":6685},{"s":"Test 4''","x":493,"y":6700},{"s":"Test 4''","x":508.6,"y":6716},{"s":"Test 4''","x":523,"y":6733},{"s":"Test 4''","x":538.4,"y":6751},{"s":"Test 4''","x":553,"y":6767},{"s":"Test 4''","x":567,"y":6783},{"s":"Test 4''","x":581,"y":6797},{"s":"Test 4''","x":595,"y":6811},{"s":"Test 4''","x":600,"y":6815}
]},
"mark": {"type": "line", "strokeCap": "round", "strokeJoin": "round"},
"encoding": {
"x": {"field": "x", "type": "quantitative",
 "scale": {"domain": [0, 600], "nice": false, "zero": false},
 "axis": {"title": "Accumulated material removal [cm³]", "grid": false, "values": [0,100,200,300,400,500,600], "format": "d",
  "labelFontSize": 58, "labelColor": "#111111", "labelBaseline": "alphabetic", "labelPadding": 83, "labelFlush": false,
  "tickSize": 21, "tickColor": "#8c8c8c", "tickWidth": 2.5, "domainColor": "#8c8c8c", "domainWidth": 2.5,
  "titleFontSize": 62, "titleFontWeight": "bold", "titleColor": "#000000", "titleY": 204, "titleBaseline": "alphabetic"}},
"y": {"field": "y", "type": "quantitative",
 "scale": {"domain": [3000, 9000], "nice": false, "zero": false},
 "axis": {"title": "Power [W]", "grid": true, "values": [3000,4000,5000,6000,7000,8000,9000], "format": "d",
  "gridColor": "#8c8c8c", "gridWidth": 2.5,
  "labelFontSize": 58, "labelColor": "#111111", "labelPadding": 36,
  "tickSize": 21, "tickColor": "#8c8c8c", "tickWidth": 2.5, "domainColor": "#8c8c8c", "domainWidth": 2.5,
  "titleFontSize": 56, "titleFontWeight": "bold", "titleColor": "#000000", "titleX": -231, "titleBaseline": "alphabetic"}},
"color": {"field": "s", "type": "nominal",
 "scale": {"domain": ["Test 1","Test 2","Test 3","Test 4","Test 1''","Test 2''","Test 3''","Test 4''"],
  "range": ["#1a70b0","#bc3a35","#6e9a34","#6b4c93","#06427c","#e5504e","#8cc24a","#8e68b6"]},
 "legend": {"title": null, "orient": "none", "legendX": 1979, "legendY": 231, "symbolType": "stroke", "symbolSize": 28224,
  "clipHeight": 58, "rowPadding": 61.3, "labelFontSize": 58, "labelColor": "#111111", "labelOffset": 17, "padding": 0, "labelLimit": 400}},
"strokeDash": {"field": "s", "type": "nominal",
 "scale": {"domain": ["Test 1","Test 2","Test 3","Test 4","Test 1''","Test 2''","Test 3''","Test 4''"],
  "range": [[1,0],[1,0],[1,0],[1,0],[40,46],[40,46],[40,46],[40,46]]},
 "legend": {"title": null, "orient": "none", "legendX": 1979, "legendY": 231, "symbolType": "stroke", "symbolSize": 28224,
  "clipHeight": 58, "rowPadding": 61.3, "labelFontSize": 58, "labelColor": "#111111", "labelOffset": 17, "padding": 0, "labelLimit": 400}},
"strokeWidth": {"field": "s", "type": "nominal",
 "scale": {"type": "ordinal", "domain": ["Test 1","Test 2","Test 3","Test 4","Test 1''","Test 2''","Test 3''","Test 4''"],
  "range": [7,7,7,7,10,10,10,10]},
 "legend": {"title": null, "orient": "none", "legendX": 1979, "legendY": 231, "symbolType": "stroke", "symbolSize": 28224,
  "clipHeight": 58, "rowPadding": 61.3, "labelFontSize": 58, "labelColor": "#111111", "labelOffset": 17, "padding": 0, "labelLimit": 400}}
}
}
